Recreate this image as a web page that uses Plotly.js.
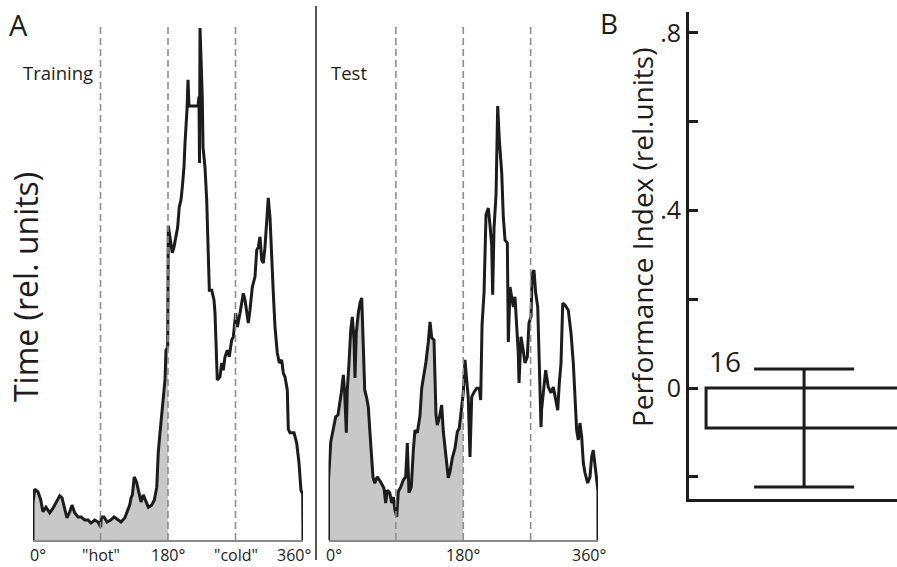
<!DOCTYPE html>
<html><head><meta charset="utf-8">
<script src="https://cdn.plot.ly/plotly-3.0.1.min.js"></script>
<style>html,body{margin:0;padding:0;background:#fff}#chart{width:897px;height:567px}</style>
</head><body><div id="chart"></div>
<script>
// ---- Panel A: Training histogram (angle in degrees, time in rel. units) ----
const trainAngle = [0,0,2.3,6.7,10.3,13.3,17.3,22.3,26.7,30.7,35.6,38.7,42.3,45.3,49,52,55.6,60,64,68.9,73.3,77.3,82.3,86.7,90.3,91,94.7,98.7,103.6,108,112,117.3,122.3,125.3,128.9,130.7,132.5,135,138,141.3,144,147,150.2,153.8,158.2,161.8,165,167,169.3,171.6,173.8,176,177.3,179.6,180.4,183.6,185.7,188,190.2,192.9,195,197.3,199.1,201.3,202.7,205.3,206.7,208,213.3,220,221.3,222,222.7,224.7,225.7,226.7,229.3,231.6,233.7,235.1,238.3,241.3,242.7,244,245.7,249.3,251.6,253.7,256,259.1,261.7,264.9,267.1,270.3,272.4,276,278.3,280.4,282.7,284.9,287.1,289.3,292.4,296,298.3,300.4,302.7,304.9,307.1,309.3,311.6,313.7,316,318.3,320.4,322.7,325.7,328.4,331.6,333.7,336,339.1,340.4,342.7,348,351.6,354.7,357.3,359.6,360];
const trainValue = [0,7.2,9.9,9.4,7.8,5.5,6.4,5.3,6.2,7.2,8.6,8.2,6.2,4.3,5.5,6.8,5.3,4.5,4.5,3.9,3.9,3.3,3.9,3.5,2.5,4.5,4.5,3.5,3.9,4.5,4.1,3.5,4.3,5.3,6.8,8.2,8.8,12.3,11.3,9.2,7.4,8.8,7.8,6.4,6.8,7.8,10.3,17.0,20.9,24.0,27.3,31.2,37.0,37.6,61.2,58.5,56.0,57.1,58.9,61.0,64.9,66.3,68.8,72.7,77.4,83.8,89.7,84.6,84.6,84.6,86.4,73.5,99.8,91.6,86.4,76.6,72.7,66.3,54.6,48.7,48.7,46.8,44.2,39.0,31.2,31.8,34.5,33.1,35.7,37.0,35.7,39.0,39.6,44.2,41.5,44.2,46.2,48.1,46.8,44.2,42.3,44.8,49.3,51.3,56.5,57.1,59.1,54.6,54.0,57.1,62.9,66.7,62.9,53.8,48.1,41.5,36.5,34.5,35.1,32.6,31.8,29.2,21.6,20.9,20.9,18.9,15.0,9.7,9.0,0];

// ---- Panel A: Test histogram ----
const testAngle = [0,0,3.0,5.1,7.3,9.6,12.7,15.4,17.1,19.8,21.6,23.8,25.1,27.4,29.7,31.8,34.1,35.4,37.1,39.8,42.1,44.4,46.5,48.4,51.0,53.2,55.4,57.2,59.4,61.7,65.2,69.7,74.1,76.4,78.5,81.8,84.4,86.6,88.8,91.1,93.2,96.4,99.9,103.1,105.3,107.5,110.6,113.3,115.5,118.6,122.2,124.5,126.6,130.2,133.3,135.6,137.9,140.9,143.6,145.3,148.0,151.2,153.4,155.6,157.9,160.0,162.3,165.4,169.0,172.1,174.7,177.9,180.1,182.3,184.6,186.7,189.0,191.3,194.4,198.0,201.4,203.3,205.1,207.8,210.4,213.5,215.7,218.0,219.3,221.1,223.8,225.1,226.0,228.2,229.8,231.4,233.5,235.8,238.9,239.8,240.2,242.5,244.7,246.9,249.1,251.4,253.5,254.5,257.1,259.4,262.5,265.6,267.8,270.5,272.2,274.5,276.8,279.5,281.6,283.9,284.6,286.9,290.1,293.6,297.2,300.3,303.5,306.2,308.3,310.6,312.9,315.9,320.3,323.9,327.0,329.3,331.5,333.7,335.9,338.2,340.4,342.6,346.2,349.3,351.5,353.7,355.9,358.2,359.9,360];
const testValue = [0,11.7,19.1,20.9,22.0,24.0,24.4,26.7,28.7,32.2,28.7,20.9,29.2,34.5,40.9,43.5,39.0,31.6,40.4,44.2,46.2,47.2,35.7,29.2,27.7,25.9,20.9,17.5,12.3,11.1,12.3,11.3,10.1,7.2,9.7,9.2,7.2,8.4,5.8,4.5,9.4,10.3,11.7,12.3,18.9,9.2,10.3,17.5,21.4,20.9,24.2,29.6,31.2,34.7,38.6,42.5,39.4,39.0,24.4,22.4,23.8,26.3,21.1,18.5,15.2,12.1,13.3,16.0,17.9,21.1,21.8,25.7,28.8,35.1,30.8,27.7,16.2,27.9,28.8,29.6,29.6,27.3,41.9,48.3,63.4,64.7,61.4,57.5,47.8,60.8,67.3,77.0,84.6,78.0,74.1,71.5,63.0,58.5,57.9,48.7,38.6,49.3,47.4,45.4,47.4,42.3,36.5,30.6,39.6,37.6,34.5,35.7,42.3,43.5,52.0,52.6,48.1,45.4,33.1,22.0,25.3,29.2,33.1,29.8,28.7,29.8,27.3,25.3,30.6,34.5,46.2,45.8,44.8,40.4,34.5,27.3,21.4,19.5,22.8,20.1,15.0,13.1,11.1,12.3,16.2,17.5,15.0,12.3,9.7,0];

const markerAngles = [90, 180, 270];
const shadeLimit = 180;
const trainTickVals = [0, 90, 180, 270, 360];
const trainTickText = ['0°', '"hot"', '180°', '"cold"', '360°'];
const testTickVals = [0, 180, 360];
const testTickText = ['0°', '180°', '360°'];

// ---- Panel B: Performance index ----
const piCategory = ['PI'];
const piMean = [-0.09];
const piError = [0.133];
const piN = ['16'];
const piTickVals = [-0.2, 0, 0.2, 0.4, 0.6, 0.8];
const piTickText = ['', '0', '', '.4', '', '.8'];

const FONT = '"Open Sans", "Noto Sans", "DejaVu Sans", sans-serif';
const INK = '#1c1c1c';

function shadePart(ang, val, limit) {
  const xs = [], ys = [];
  for (let i = 0; i < ang.length; i++) {
    if (ang[i] <= limit) { xs.push(ang[i]); ys.push(val[i]); }
    else {
      const a0 = ang[i-1], a1 = ang[i], v0 = val[i-1], v1 = val[i];
      xs.push(limit); ys.push(v0 + (v1 - v0) * (limit - a0) / (a1 - a0));
      break;
    }
  }
  return {xs, ys};
}

const trShade = shadePart(trainAngle, trainValue, shadeLimit);
const teShade = shadePart(testAngle, testValue, shadeLimit);

const traces = [
  {x: trShade.xs, y: trShade.ys, xaxis: 'x', yaxis: 'y', type: 'scatter', mode: 'lines',
   fill: 'tozeroy', fillcolor: '#c8c8c8', line: {width: 0}, hoverinfo: 'skip'},
  {x: teShade.xs, y: teShade.ys, xaxis: 'x2', yaxis: 'y2', type: 'scatter', mode: 'lines',
   fill: 'tozeroy', fillcolor: '#c8c8c8', line: {width: 0}, hoverinfo: 'skip'},
  {x: trainAngle, y: trainValue, xaxis: 'x', yaxis: 'y', type: 'scatter', mode: 'lines',
   line: {color: INK, width: 3}},
  {x: testAngle, y: testValue, xaxis: 'x2', yaxis: 'y2', type: 'scatter', mode: 'lines',
   line: {color: INK, width: 3}},
  {x: piCategory.map((_, i) => i), y: piMean, xaxis: 'x3', yaxis: 'y3', type: 'bar', width: 1,
   marker: {color: 'rgba(255,255,255,0)', line: {color: INK, width: 3}},
   error_y: {type: 'data', array: piError, visible: true, thickness: 3, width: 50, color: INK}}
];

const shapes = [];
markerAngles.forEach(a => {
  ['', '2'].forEach(s => {
    shapes.push({type: 'line', xref: 'x' + s, yref: 'y' + s, x0: a, x1: a, y0: 0, y1: 100,
      line: {color: '#8e8e8e', width: 1.6, dash: '7px,4px'}, layer: 'above'});
  });
});
shapes.push({type: 'line', xref: 'paper', yref: 'paper', x0: 316/897, x1: 316/897,
  y0: 1 - 560/567, y1: 1 - 6/567, line: {color: INK, width: 1.5}});

const annotations = [
  {text: 'A', xref: 'paper', yref: 'paper', x: 7/897, y: 1 - 25/567, xanchor: 'left', yanchor: 'middle',
   showarrow: false, font: {family: FONT, size: 29, color: INK}},
  {text: 'B', xref: 'paper', yref: 'paper', x: 598/897, y: 1 - 23/567, xanchor: 'left', yanchor: 'middle',
   showarrow: false, font: {family: FONT, size: 28, color: INK}},
  {text: 'Training', xref: 'paper', yref: 'paper', x: 21/897, y: 1 - 73/567, xanchor: 'left', yanchor: 'middle',
   showarrow: false, font: {family: FONT, size: 18.5, color: INK}},
  {text: 'Test', xref: 'paper', yref: 'paper', x: 329/897, y: 1 - 73/567, xanchor: 'left', yanchor: 'middle',
   showarrow: false, font: {family: FONT, size: 18.5, color: INK}},
  {text: 'Time (rel. units)', xref: 'paper', yref: 'paper', x: 25/897, y: 1 - 287/567, xanchor: 'center', yanchor: 'middle',
   textangle: -90, showarrow: false, font: {family: FONT, size: 32, color: INK}},
  {text: 'Performance Index (rel.units)', xref: 'paper', yref: 'paper', x: 642/897, y: 1 - 238/567, xanchor: 'center', yanchor: 'middle',
   textangle: -90, showarrow: false, font: {family: FONT, size: 28, color: INK}},
  {text: piN[0], xref: 'paper', yref: 'paper', x: 725/897, y: 1 - 361/567, xanchor: 'center', yanchor: 'middle',
   showarrow: false, font: {family: FONT, size: 28, color: INK}}
];

// x tick labels as annotations so the end labels can sit inside their panels
function tickLabels(vals, txt, xref) {
  vals.forEach((v, i) => {
    const shift = i === 0 ? 5 : (i === vals.length - 1 ? -9 : 0);
    annotations.push({text: txt[i], xref: xref, yref: 'paper', x: v, y: 1 - 555/567,
      xanchor: 'center', yanchor: 'middle', xshift: shift, showarrow: false,
      font: {family: FONT, size: 16, color: INK}});
  });
}
tickLabels(trainTickVals, trainTickText, 'x');
tickLabels(testTickVals, testTickText, 'x2');

const yA = {domain: [27/567, 540/567], range: [0, 100], visible: false, fixedrange: true};
const xA = (dom) => ({domain: dom, range: [0, 360], showline: true, linecolor: '#8a8a8a', linewidth: 2.2,
  showgrid: false, zeroline: false, ticks: '', showticklabels: false});

const layout = {
  width: 897, height: 567,
  margin: {l: 0, r: 0, t: 0, b: 0},
  paper_bgcolor: '#fff', plot_bgcolor: 'rgba(0,0,0,0)',
  showlegend: false,
  xaxis: Object.assign(xA([33/897, 303/897]), {anchor: 'y'}),
  yaxis: Object.assign({}, yA, {anchor: 'x'}),
  xaxis2: Object.assign(xA([328.5/897, 598/897]), {anchor: 'y2'}),
  yaxis2: Object.assign({}, yA, {anchor: 'x2'}),
  xaxis3: {domain: [689/897, 1], anchor: 'y3', range: [-0.587, 0.474], type: 'linear',
    showline: true, linecolor: INK, linewidth: 3, showgrid: false, zeroline: false,
    showticklabels: false, ticks: ''},
  yaxis3: {domain: [68/567, 555/567], anchor: 'x3', range: [-0.25, 0.847],
    showline: true, linecolor: INK, linewidth: 3, showgrid: false, zeroline: false,
    ticks: 'inside', ticklen: 9, tickwidth: 3, tickcolor: INK,
    tickvals: piTickVals, ticktext: piTickText,
    tickfont: {family: FONT, size: 25, color: INK}},
  shapes: shapes,
  annotations: annotations
};

Plotly.newPlot('chart', traces, layout, {displayModeBar: false, staticPlot: true});
</script>
</body></html>
